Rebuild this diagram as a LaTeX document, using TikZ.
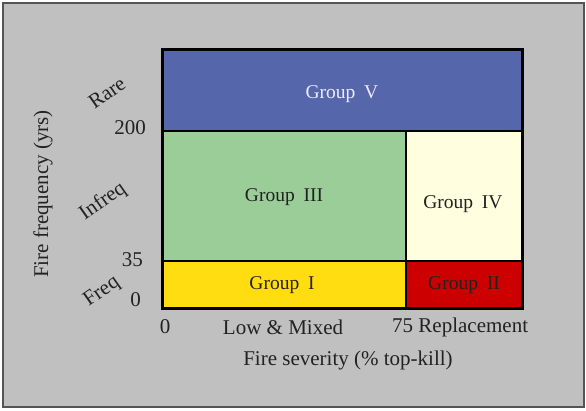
\documentclass[tikz,border=0pt]{standalone}
\usepackage{fontspec}
\setmainfont{Liberation Serif}
\definecolor{bggray}{HTML}{C0C0C0}
\definecolor{framegray}{HTML}{555555}
\definecolor{gblue}{HTML}{5666AA}
\definecolor{ggreen}{HTML}{9BCD98}
\definecolor{gcream}{HTML}{FFFFE0}
\definecolor{gyellow}{HTML}{FFDD11}
\definecolor{gred}{HTML}{CC0000}
\definecolor{txt}{HTML}{222222}
\begin{document}
\begin{tikzpicture}[x=1pt,y=-1pt,
  lbl/.style={font=\fontsize{21}{23}\selectfont, text=txt, inner sep=0pt},
  grp/.style={font=\fontsize{19.5}{22}\selectfont, text=txt, inner sep=0pt},
  zone/.style={draw=black, line width=2pt}]
\useasboundingbox (0,0) rectangle (586,410);
\fill[white] (0,0) rectangle (586,410);
\draw[fill=bggray, draw=framegray, line width=1.5pt] (3,3) rectangle (584,407);
% zones
\draw[zone, fill=gblue] (162,49) rectangle (522,131);
\draw[zone, fill=ggreen] (162,131) rectangle (406,261);
\draw[zone, fill=gcream] (406,131) rectangle (522,261);
\draw[zone, fill=gyellow] (162,261) rectangle (406,308);
\draw[zone, fill=gred] (406,261) rectangle (522,308);
\draw[draw=black, line width=3pt] (162,49) rectangle (522,308);
% group labels
\node[grp, text=white!92!blue] (g5) at (342,94) {Group\hspace{0.45em}V};
\node[grp] (g3) at (284,197) {Group\hspace{0.45em}III};
\node[grp] (g4) at (463,204) {Group\hspace{0.45em}IV};
\node[grp] (g1) at (282,285) {Group\hspace{0.45em}I};
\node[grp] (g2) at (464,285) {Group\hspace{0.45em}II};
% y axis
\node[lbl, rotate=90] (ytitle) at (43,194) {Fire frequency (yrs)};
\node[lbl, rotate=35] (rare) at (107,93) {Rare};
\node[lbl, rotate=35] (infreq) at (103,202) {Infreq};
\node[lbl, rotate=35] (freq) at (102,292) {Freq};
\node[lbl, anchor=east] (y200) at (146,128) {200};
\node[lbl, anchor=east] (y35) at (143,260) {35};
\node[lbl, anchor=east] (y0) at (141,300) {0};
% x axis
\node[lbl] (x0) at (165,327) {0};
\node[lbl] (low) at (283,327) {Low \& Mixed};
\node[lbl, anchor=west] (repl) at (392,327) {75 Replacement};
\node[lbl] (xtitle) at (348,360) {Fire severity (\% top-kill)};
\end{tikzpicture}
\end{document}
